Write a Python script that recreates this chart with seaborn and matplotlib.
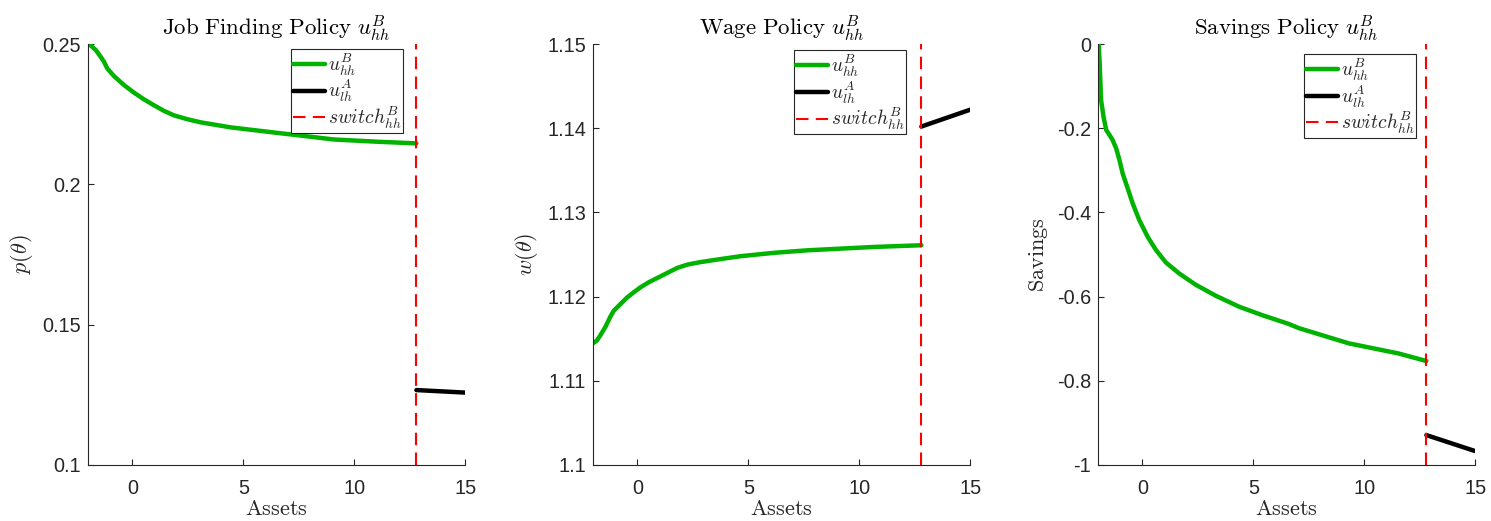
import matplotlib
matplotlib.use("Agg")
import matplotlib.pyplot as plt
from matplotlib.ticker import FuncFormatter, MultipleLocator
import seaborn as sns

# ---- policy functions on the asset grid ----
switch_assets = 12.8

# Job finding probability p(theta)
p_hh_assets = [-1.95, -1.65, -1.43, -1.28, -1.13, -0.83, -0.38, 0.07, 0.52, 0.97, 1.42, 1.87, 2.48,
               3.08, 3.68, 4.43, 5.18, 5.93, 6.68, 8.0, 9.06, 11.0, 12.8]
p_hh_values = [0.2500, 0.2479, 0.2455, 0.2437, 0.2413, 0.2386, 0.2354, 0.2327, 0.2303, 0.2282,
               0.2262, 0.2246, 0.2232, 0.2221, 0.2213, 0.2203, 0.2196, 0.2189, 0.2182, 0.2170,
               0.2160, 0.2152, 0.2146]
p_lh_assets = [12.8, 15.0]
p_lh_values = [0.1267, 0.1258]

# Wage w(theta)
w_hh_assets = [-1.97, -1.82, -1.67, -1.44, -1.22, -1.07, -0.77, -0.46, -0.17, 0.14, 0.51, 0.89,
               1.34, 1.79, 2.25, 2.85, 3.60, 4.65, 6.16, 7.67, 9.17, 10.68, 12.8]
w_hh_values = [1.1145, 1.1148, 1.1154, 1.1164, 1.1176, 1.1183, 1.1191, 1.1199, 1.1205, 1.1211,
               1.1217, 1.1222, 1.1228, 1.1234, 1.1238, 1.1241, 1.1244, 1.1248, 1.1252, 1.1255,
               1.1257, 1.1259, 1.1261]
w_lh_assets = [12.8, 15.0]
w_lh_values = [1.1402, 1.1422]

# Savings
s_hh_assets = [-1.97, -1.93, -1.86, -1.75, -1.63, -1.48, -1.34, -1.18, -1.03, -0.89, -0.66, -0.44,
               -0.14, 0.24, 0.61, 1.06, 1.66, 2.41, 3.31, 4.36, 5.40, 6.60, 7.06, 9.3, 11.54, 12.8]
s_hh_values = [0.0, -0.038, -0.133, -0.173, -0.204, -0.216, -0.228, -0.248, -0.276, -0.307, -0.343,
               -0.378, -0.418, -0.458, -0.489, -0.519, -0.545, -0.572, -0.598, -0.624, -0.644,
               -0.665, -0.675, -0.711, -0.735, -0.753]
s_lh_assets = [12.8, 15.0]
s_lh_values = [-0.929, -0.967]

x_ticks = [0, 5, 10, 15]

panels = [
    dict(title=r"$\mathrm{Job\ Finding\ Policy}\ u^{B}_{hh}$", ylabel=r"$p(\theta)$",
         hh=(p_hh_assets, p_hh_values), lh=(p_lh_assets, p_lh_values),
         ylim=(0.1, 0.25), ystep=0.05, left=0.059, leg=(0.836, 0.988)),
    dict(title=r"$\mathrm{Wage\ Policy}\ u^{B}_{hh}$", ylabel=r"$w(\theta)$",
         hh=(w_hh_assets, w_hh_values), lh=(w_lh_assets, w_lh_values),
         ylim=(1.1, 1.15), ystep=0.01, left=0.3977, leg=(0.830, 0.985)),
    dict(title=r"$\mathrm{Savings\ Policy}\ u^{B}_{hh}$", ylabel=r"$\mathrm{Savings}$",
         hh=(s_hh_assets, s_hh_values), lh=(s_lh_assets, s_lh_values),
         ylim=(-1.0, 0.0), ystep=0.2, left=0.7364, leg=(0.844, 0.976)),
]

sns.set_style("ticks")
plt.rcParams["font.family"] = ["Liberation Sans", "DejaVu Sans"]
plt.rcParams["mathtext.fontset"] = "cm"
plt.rcParams["axes.unicode_minus"] = False

GREEN = (0.0, 0.70, 0.0)
AXIS_GRAY = "#262626"

fig = plt.figure(figsize=(14.91, 5.21), dpi=100)

for spec in panels:
    ax = fig.add_axes([spec["left"], 0.1075, 0.253, 0.808])
    hx, hy = spec["hh"]
    lx, ly = spec["lh"]
    sns.lineplot(x=hx, y=hy, ax=ax, color=GREEN, lw=3.2, sort=False, estimator=None,
                 label=r"$u^{B}_{hh}$")
    sns.lineplot(x=lx, y=ly, ax=ax, color="black", lw=3.2, sort=False, estimator=None,
                 label=r"$u^{A}_{lh}$")
    ax.axvline(switch_assets, color="red", lw=1.5, dashes=(6, 3.5),
               label=r"$switch^{B}_{hh}$")

    ax.set_xlim(-2, 15)
    ax.set_ylim(*spec["ylim"])
    ax.set_xticks(x_ticks)
    ax.yaxis.set_major_locator(MultipleLocator(spec["ystep"]))
    ax.yaxis.set_major_formatter(FuncFormatter(lambda v, _: f"{round(v, 4):g}"))

    sns.despine(ax=ax)
    for side in ("left", "bottom"):
        ax.spines[side].set_color(AXIS_GRAY)
        ax.spines[side].set_linewidth(0.8)
    ax.tick_params(axis="both", direction="in", length=4, width=0.8, colors=AXIS_GRAY,
                   labelsize=14.3, labelcolor=AXIS_GRAY)
    ax.tick_params(axis="x", pad=10)
    ax.tick_params(axis="y", pad=5)

    ax.set_title(spec["title"], fontsize=16.5, pad=6, color="black")
    ax.set_xlabel(r"$\mathrm{Assets}$", fontsize=16, labelpad=1, color=AXIS_GRAY)
    ax.set_ylabel(spec["ylabel"], fontsize=16, labelpad=5, color=AXIS_GRAY)

    leg = ax.legend(loc="upper right", bbox_to_anchor=spec["leg"], fontsize=14,
                    handlelength=1.65, handletextpad=0.15, labelspacing=0.0,
                    borderpad=0.1, borderaxespad=0.0, fancybox=False, framealpha=1.0,
                    edgecolor=AXIS_GRAY)
    leg.get_frame().set_linewidth(0.8)

fig.savefig("out.png", dpi=100)
